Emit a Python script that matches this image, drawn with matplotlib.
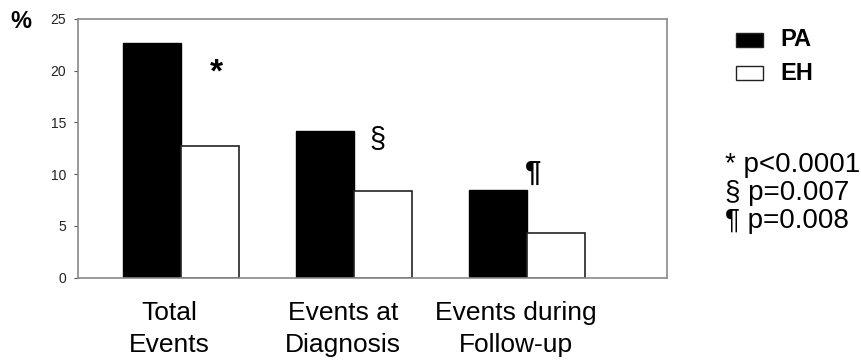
import matplotlib
matplotlib.use("Agg")
import matplotlib.pyplot as plt
from matplotlib.patches import Rectangle
import numpy as np

categories = ["Total\nEvents", "Events at\nDiagnosis", "Events during\nFollow-up"]
series_names = ["PA", "EH"]
pa_values = [22.7, 14.2, 8.5]
eh_values = [12.7, 8.4, 4.3]
sig_marks = ["*", "§", "¶"]
p_texts = ["* p<0.0001", "§ p=0.007", "¶ p=0.008"]
yticks = [0, 5, 10, 15, 20, 25]

plt.rcParams['font.family'] = ['Liberation Sans', 'DejaVu Sans']

fig = plt.figure(figsize=(8.61, 3.61), dpi=100)
ax = fig.add_axes([78/861, 1 - 277.7/361, (667.3-78)/861, (277.7-19)/361])

x = np.arange(len(categories))
w = 0.335
ax.bar(x - w/2, pa_values, w, color="black", edgecolor="black", linewidth=1, label=series_names[0])
ax.bar(x + w/2, eh_values, w, color="white", edgecolor="#222222", linewidth=1.2, label=series_names[1])

ax.set_xlim(-0.593, 2.808)
ax.set_ylim(0, 25)
ax.set_yticks(yticks)
ax.set_yticklabels([str(t) for t in yticks], fontsize=10, color="#222222")
ax.tick_params(axis="y", length=3, width=0.8, color="#555555", pad=5.5)
ax.set_xticks(x - 0.065)
ax.set_xticklabels(categories, fontsize=19, linespacing=1.38)
ax.tick_params(axis="x", length=0, pad=17)
for s in ax.spines.values():
    s.set_color("#8a8a8a")
    s.set_linewidth(1.2)

# significance marks
mark_pos = [(0.208, 19.8, 24, "bold"), (0.137, 13.3, 21, "normal"), (0.033, 10.1, 21, "bold")]
for i, (m, (dx, yy, fs, fw)) in enumerate(zip(sig_marks, mark_pos)):
    ax.text(x[i] + dx, yy, m, ha="center", va="center", fontsize=fs, fontweight=fw)

fig.text(10/861, 1 - 21/361, "%", fontsize=17, fontweight="bold", ha="left", va="center")

# legend
leg_y = [40, 73]
colors = ["black", "white"]
for name, yy, c in zip(series_names, leg_y, colors):
    fig.patches.append(Rectangle((736/861, 1 - (yy + 7)/361), 27/861, 14/361,
                                 transform=fig.transFigure, facecolor=c,
                                 edgecolor="#222222", linewidth=1))
    fig.text(780/861, 1 - yy/361, name, fontsize=17, fontweight="bold", ha="left", va="center")

for t, yy in zip(p_texts, [165, 193.3, 221.5]):
    fig.text(725/861, 1 - yy/361, t, fontsize=20, ha="left", va="center")

fig.savefig("out.png", dpi=100)
